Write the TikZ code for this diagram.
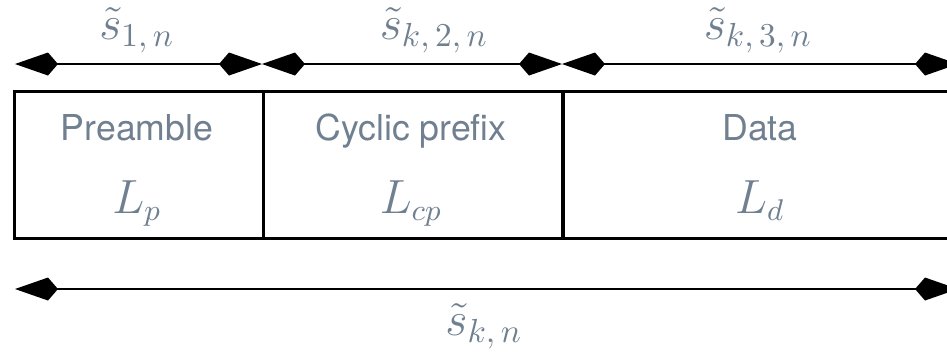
\documentclass[tikz,border=0pt]{standalone}
\usepackage{fontspec}
\setsansfont{TeX Gyre Heros}
\usetikzlibrary{arrows.meta}
\definecolor{slate}{RGB}{112,128,144}
\tikzset{
  kitearrow/.style={line width=0.75pt, {Kite[length=12.9pt,width=6.9pt,inset=3pt]}-{Kite[length=12.9pt,width=6.9pt,inset=3pt]}},
  cell/.style={draw, line width=0.75pt},
  word/.style={text=slate, font=\sffamily\fontsize{10.7}{12}\selectfont, anchor=base, inner sep=0pt},
  mlabel/.style={text=slate, font=\fontsize{13.3}{15}\selectfont, anchor=base, inner sep=0pt},
  slabel/.style={text=slate, font=\fontsize{14}{16}\selectfont, anchor=base, inner sep=0pt}
}
\begin{document}
\begin{tikzpicture}[x=0.3pt,y=-0.3pt]
\useasboundingbox (0,0) rectangle (947,353);
\clip (0,0) rectangle (947,353);
% cells
\node[cell, inner sep=0pt, minimum width=74.7pt, minimum height=44.1pt, anchor=north west] (c1) at (13,90) {};
\node[cell, inner sep=0pt, minimum width=89.7pt, minimum height=44.1pt, anchor=north west] (c2) at (262,90) {};
\node[cell, inner sep=0pt, minimum width=130pt, minimum height=44.1pt, anchor=north west] (c3) at (562,90) {};
% cell texts
\node[word] (t1) at (137,140) {Preamble};
\node[word] (t2) at (411,140) {Cyclic prefix};
\node[word] (t3) at (760,140) {Data};
\node[mlabel] (m1) at (137,213) {$L_p$};
\node[mlabel] (m2) at (411,213) {$L_{cp}$};
\node[mlabel] (m3) at (760,213) {$L_d$};
% arrow end points
\coordinate (a0) at (15,64);
\coordinate (a1) at (262,64);
\coordinate (a2) at (562,64);
\coordinate (a3) at (958,64);
\coordinate (b0) at (15,289);
\coordinate (b1) at (958,289);
\draw[kitearrow] (a0) -- (a1);
\draw[kitearrow] (a1) -- (a2);
\draw[kitearrow] (a2) -- (a3);
\draw[kitearrow] (b0) -- (b1);
% labels
\node[slabel] (s1) at (137,39) {$\tilde{s}_{1,\,n}$};
\node[slabel] (s2) at (434,39) {$\tilde{s}_{k,\,2,\,n}$};
\node[slabel] (s3) at (758,39) {$\tilde{s}_{k,\,3,\,n}$};
\node[slabel] (s4) at (484,335) {$\tilde{s}_{k,\,n}$};
\end{tikzpicture}
\end{document}
